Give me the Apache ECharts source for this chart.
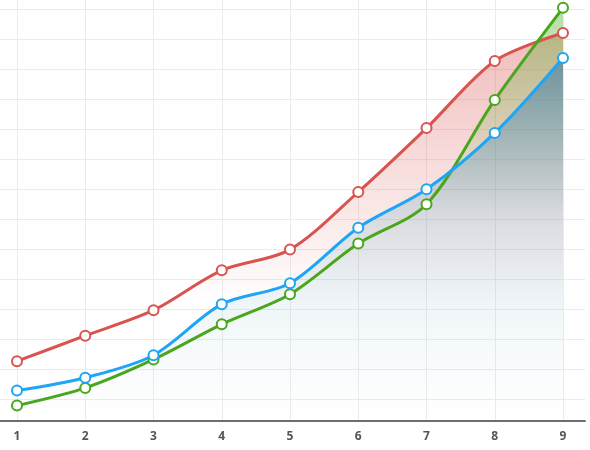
<!DOCTYPE html>
<html>
<head>
<meta charset="utf-8">
<script src="https://cdn.jsdelivr.net/npm/echarts@6/dist/echarts.min.js"></script>
<style>
html,body{margin:0;padding:0;background:#fff;}
#chart{width:590px;height:450px;}
</style>
</head>
<body>
<div id="chart"></div>
<script>
const categories = [1, 2, 3, 4, 5, 6, 7, 8, 9];
const redValues = [22.6, 31.1, 39.6, 52.9, 59.8, 79.0, 100.3, 122.7, 132.0];
const blueValues = [12.8, 17.1, 24.6, 41.6, 48.6, 67.1, 79.9, 98.7, 123.7];
const greenValues = [7.8, 13.7, 23.2, 34.9, 44.9, 61.8, 74.9, 109.7, 140.4];
const yTicks = [10, 20, 30, 40, 50, 60, 70, 80, 90, 100, 110, 120, 130, 140];

function pairs(vals) { return categories.map((c, i) => [c, vals[i]]); }
function grad(stops) {
  return {type: 'linear', x: 0, y: 0, x2: 0, y2: 1,
    colorStops: stops.map(s => ({offset: s[0], color: s[1]}))};
}
function mkSeries(name, vals, color, area) {
  return {
    name: name, type: 'line', smooth: 0.3, data: pairs(vals),
    symbol: 'circle', symbolSize: 10,
    lineStyle: {color: color, width: 3},
    itemStyle: {color: '#fff', borderColor: color, borderWidth: 2},
    areaStyle: {color: area},
    emphasis: {disabled: true}
  };
}
const chart = echarts.init(document.getElementById('chart'), null, {renderer: 'canvas'});
chart.setOption({
  animation: false,
  grid: {left: 0, right: 5, top: 0, bottom: 29, containLabel: false},
  xAxis: {
    type: 'value', min: 0.7509, max: 9.3223,
    axisLine: {onZero: false, lineStyle: {color: '#6e6e6e', width: 2}},
    axisTick: {show: false, customValues: categories},
    axisLabel: {customValues: categories, color: '#555', fontWeight: 'bold', fontSize: 12, fontFamily: 'Open Sans', margin: 10},
    splitLine: {show: true, lineStyle: {color: '#ebebeb', width: 1}}
  },
  yAxis: {
    type: 'value', min: 2.6667, max: 143,
    axisLine: {show: false}, axisLabel: {show: false},
    axisTick: {show: false, customValues: yTicks},
    splitLine: {show: true, lineStyle: {color: '#ebebeb', width: 1}}
  },
  series: [
    mkSeries('red', redValues, '#d9534f', grad([[0, 'rgba(217,83,79,0.55)'], [0.7, 'rgba(217,83,79,0)'], [1, 'rgba(217,83,79,0)']])),
    mkSeries('green', greenValues, '#4aa61c', grad([[0, 'rgba(80,175,40,0.6)'], [0.5, 'rgba(80,175,40,0)'], [1, 'rgba(80,175,40,0)']])),
    mkSeries('blue', blueValues, '#1ea5f5', grad([[0, 'rgba(35,110,170,0.75)'], [0.45, 'rgba(90,160,185,0.28)'], [1, 'rgba(150,195,210,0)']]))
  ]
});
</script>
</body>
</html>
